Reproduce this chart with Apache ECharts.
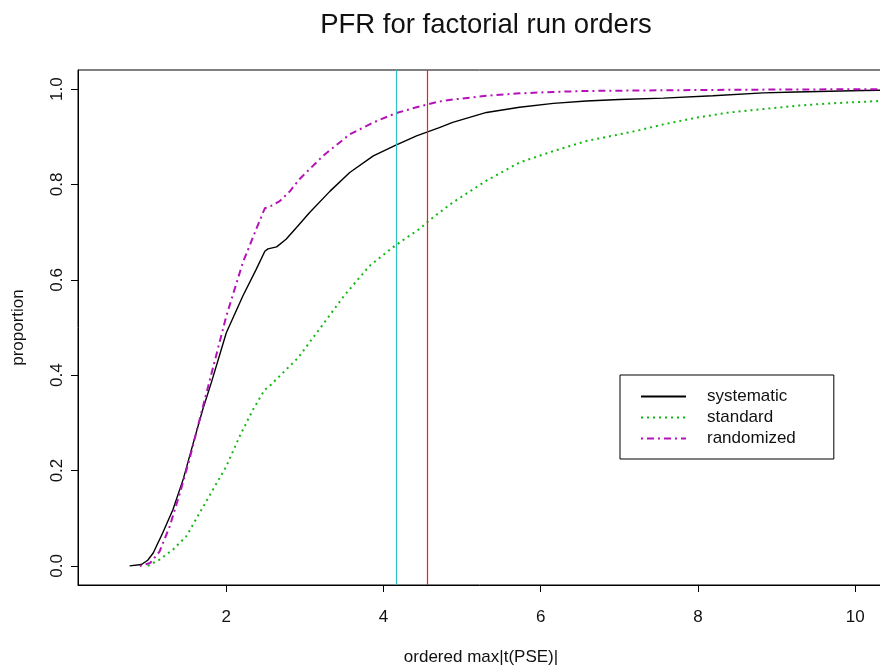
<!DOCTYPE html>
<html>
<head>
<meta charset="utf-8">
<script src="https://cdn.jsdelivr.net/npm/echarts@6/dist/echarts.min.js"></script>
<style>
  html, body { margin: 0; padding: 0; background: #ffffff; }
  #chart { width: 880px; height: 666px; }
</style>
</head>
<body>
<div id="chart"></div>
<script>
// Empirical proportion curves: [ordered max|t(PSE)|, proportion]
const systematic = [
  [0.77, 0.000], [0.92, 0.003], [1.00, 0.012], [1.07, 0.027], [1.19, 0.069],
  [1.32, 0.118], [1.45, 0.181], [1.58, 0.258], [1.70, 0.328], [1.81, 0.385],
  [2.00, 0.489], [2.21, 0.566], [2.38, 0.622], [2.49, 0.660], [2.53, 0.665],
  [2.64, 0.669], [2.76, 0.685], [2.91, 0.713], [3.06, 0.741], [3.32, 0.786],
  [3.57, 0.825], [3.87, 0.860], [4.15, 0.882], [4.42, 0.902], [4.71, 0.919],
  [4.88, 0.930], [5.31, 0.951], [5.73, 0.962], [6.16, 0.970], [6.58, 0.975],
  [7.00, 0.978], [7.56, 0.981], [8.19, 0.986], [8.83, 0.992], [9.25, 0.994],
  [10.10, 0.997], [10.50, 0.998]
];
const standard = [
  [1.00, 0.000], [1.15, 0.013], [1.32, 0.034], [1.49, 0.062], [1.66, 0.111],
  [1.83, 0.160], [2.00, 0.209], [2.17, 0.272], [2.34, 0.328], [2.49, 0.370],
  [2.53, 0.374], [2.72, 0.405], [2.91, 0.436], [3.20, 0.500], [3.50, 0.567],
  [3.82, 0.629], [4.15, 0.672], [4.46, 0.707], [4.57, 0.723], [4.71, 0.741],
  [4.88, 0.762], [5.31, 0.808], [5.73, 0.846], [6.16, 0.870], [6.58, 0.891],
  [7.00, 0.905], [7.26, 0.914], [7.56, 0.926], [7.98, 0.940], [8.40, 0.951],
  [8.83, 0.958], [9.25, 0.965], [9.68, 0.970], [10.31, 0.975], [10.50, 0.977]
];
const randomized = [
  [0.90, 0.000], [1.03, 0.006], [1.15, 0.030], [1.28, 0.083], [1.41, 0.153],
  [1.53, 0.223], [1.66, 0.307], [1.77, 0.377], [2.00, 0.524], [2.21, 0.636],
  [2.38, 0.706], [2.49, 0.750], [2.57, 0.755], [2.68, 0.765], [2.81, 0.786],
  [2.93, 0.811], [3.23, 0.860], [3.57, 0.905], [3.87, 0.930], [4.15, 0.949],
  [4.42, 0.962], [4.71, 0.974], [4.88, 0.978], [5.31, 0.986], [5.73, 0.991],
  [6.16, 0.994], [6.58, 0.996], [7.26, 0.997], [8.00, 0.998], [9.00, 0.999],
  [10.50, 1.000]
];

// Reference cut-offs drawn as vertical lines
const cutoffs = [4.155, 4.563];
const cutoffColors = ['#2cc4c4', '#ff1a1a'];

// Tick positions
const xTicks = [2, 4, 6, 8, 10];
const yTicks = [0, 0.2, 0.4, 0.6, 0.8, 1.0];

const FONT = 'Liberation Sans, Arial, sans-serif';
const INK = '#111111';

const chart = echarts.init(document.getElementById('chart'), null, { renderer: 'canvas' });

// Each cut-off is its own empty series carrying one vertical markLine
const cutoffSeries = cutoffs.map((c, i) => ({
  name: 'cutoff' + i,
  type: 'line',
  data: [],
  silent: true,
  z: 1,
  markLine: {
    silent: true,
    symbol: ['none', 'none'],
    label: { show: false },
    emphasis: { disabled: true },
    lineStyle: { color: cutoffColors[i], width: 1.2, type: 'solid', opacity: 1 },
    data: [{ xAxis: c }]
  }
}));

chart.setOption({
  animation: false,
  backgroundColor: '#ffffff',
  title: {
    text: 'PFR for factorial run orders',
    left: 481,
    top: 6,
    textAlign: 'center',
    textStyle: { fontFamily: FONT, fontSize: 27.5, fontWeight: 'normal', color: INK }
  },
  grid: {
    left: 78, top: 70, width: 806, height: 515,
    containLabel: false,
    outerBoundsMode: 'none',
    show: true, borderColor: '#000', borderWidth: 1, backgroundColor: 'transparent'
  },
  legend: {
    orient: 'vertical',
    left: 620, top: 375,
    padding: [11, 38, 10, 20],
    itemGap: 0,
    itemWidth: 45,
    itemHeight: 14,
    backgroundColor: '#ffffff',
    borderColor: '#000',
    borderWidth: 1,
    borderRadius: 0,
    selectedMode: false,
    itemStyle: { opacity: 0, borderWidth: 0 },
    textStyle: {
      fontFamily: FONT, fontSize: 17, color: INK,
      lineHeight: 21, padding: [0, 0, 0, 16]
    },
    data: ['systematic', 'standard', 'randomized']
  },
  xAxis: {
    type: 'value',
    min: 0.113, max: 10.367,
    name: 'ordered max|t(PSE)|',
    nameLocation: 'middle',
    nameGap: 64,
    nameTextStyle: { fontFamily: FONT, fontSize: 17, color: INK },
    axisLine: { show: true, onZero: false, lineStyle: { color: '#000', width: 1 } },
    axisTick: { show: true, inside: false, length: 7, lineStyle: { color: '#000' }, customValues: xTicks },
    axisLabel: { fontFamily: FONT, fontSize: 17, color: INK, margin: 24, customValues: xTicks },
    splitLine: { show: false }
  },
  yAxis: {
    type: 'value',
    min: -0.04, max: 1.04,
    name: 'proportion',
    nameLocation: 'middle',
    nameGap: 51,
    nameRotate: 90,
    nameTextStyle: { fontFamily: FONT, fontSize: 17, color: INK },
    axisLine: { show: true, onZero: false, lineStyle: { color: '#000', width: 1 } },
    axisTick: { show: true, inside: false, length: 7, lineStyle: { color: '#000' }, customValues: yTicks },
    axisLabel: {
      fontFamily: FONT, fontSize: 17, color: INK, margin: 12, rotate: 90,
      customValues: yTicks,
      formatter: v => v.toFixed(1)
    },
    splitLine: { show: false }
  },
  series: [
    ...cutoffSeries,
    {
      name: 'systematic',
      type: 'line',
      data: systematic,
      symbol: 'none',
      color: '#000000',
      lineStyle: { color: '#000000', width: 1.4, type: 'solid' },
      z: 3
    },
    {
      name: 'standard',
      type: 'line',
      data: standard,
      symbol: 'none',
      color: '#12b812',
      lineStyle: { color: '#12b812', width: 2, type: [2, 4] },
      z: 2
    },
    {
      name: 'randomized',
      type: 'line',
      data: randomized,
      symbol: 'none',
      color: '#b412b8',
      lineStyle: { color: '#b412b8', width: 2, type: [2, 4, 7, 4] },
      z: 4
    }
  ]
});
</script>
</body>
</html>
